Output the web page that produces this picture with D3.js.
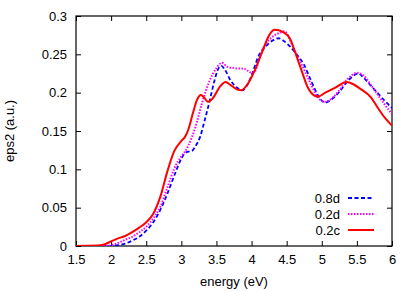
<!DOCTYPE html>
<html>
<head>
<meta charset="utf-8">
<script src="https://cdn.jsdelivr.net/npm/d3@7"></script>
<style>
  body { margin: 0; background: #fff; }
  text { font-family: "Liberation Sans", Arial, sans-serif; fill: #000; }
</style>
</head>
<body>
<svg id="chart" width="415" height="291"></svg>
<script>
'use strict';

// energy (eV) and eps2 values
var blueE = [1.5, 2.0, 2.1, 2.2, 2.3, 2.4, 2.5, 2.6, 2.7, 2.8, 2.9, 3.0, 3.05, 3.1, 3.15, 3.2, 3.27, 3.33, 3.4, 3.47, 3.52, 3.57, 3.62, 3.7, 3.8, 3.87, 3.95, 4.03, 4.1, 4.2, 4.3, 4.38, 4.45, 4.55, 4.65, 4.75, 4.85, 4.95, 5.05, 5.15, 5.25, 5.35, 5.45, 5.52, 5.6, 5.7, 5.8, 5.9, 6.0];
var blueV = [0, 0, 0.001, 0.003, 0.007, 0.012, 0.020, 0.031, 0.047, 0.068, 0.092, 0.114, 0.121, 0.123, 0.124, 0.130, 0.143, 0.163, 0.188, 0.215, 0.230, 0.235, 0.230, 0.216, 0.206, 0.203, 0.212, 0.230, 0.248, 0.260, 0.268, 0.271, 0.268, 0.260, 0.249, 0.236, 0.215, 0.196, 0.187, 0.192, 0.201, 0.213, 0.222, 0.225, 0.219, 0.209, 0.199, 0.189, 0.180];

var magE = [1.5, 1.9, 2.0, 2.1, 2.2, 2.3, 2.4, 2.5, 2.6, 2.7, 2.8, 2.9, 3.0, 3.05, 3.1, 3.2, 3.3, 3.4, 3.5, 3.58, 3.65, 3.75, 3.9, 4.0, 4.05, 4.12, 4.2, 4.3, 4.4, 4.47, 4.55, 4.65, 4.75, 4.85, 4.95, 5.05, 5.15, 5.25, 5.35, 5.45, 5.5, 5.6, 5.7, 5.8, 5.9, 6.0];
var magV = [0, 0, 0.001, 0.004, 0.008, 0.012, 0.018, 0.025, 0.036, 0.051, 0.076, 0.101, 0.117, 0.123, 0.131, 0.155, 0.188, 0.215, 0.232, 0.239, 0.234, 0.232, 0.231, 0.226, 0.228, 0.248, 0.263, 0.273, 0.278, 0.280, 0.268, 0.248, 0.230, 0.210, 0.193, 0.188, 0.193, 0.203, 0.216, 0.224, 0.226, 0.222, 0.210, 0.197, 0.184, 0.172];

var redE = [1.5, 1.8, 1.9, 2.0, 2.1, 2.2, 2.3, 2.4, 2.5, 2.6, 2.7, 2.8, 2.9, 3.0, 3.05, 3.1, 3.17, 3.22, 3.28, 3.33, 3.38, 3.45, 3.55, 3.63, 3.7, 3.8, 3.85, 3.95, 4.05, 4.15, 4.25, 4.33, 4.45, 4.55, 4.6, 4.7, 4.8, 4.9, 4.95, 5.05, 5.2, 5.35, 5.45, 5.55, 5.7, 5.8, 5.9, 6.0];
var redV = [0, 0.0005, 0.002, 0.006, 0.010, 0.013, 0.018, 0.024, 0.031, 0.042, 0.064, 0.097, 0.124, 0.137, 0.142, 0.152, 0.175, 0.190, 0.197, 0.193, 0.188, 0.193, 0.208, 0.214, 0.210, 0.204, 0.203, 0.212, 0.230, 0.253, 0.275, 0.282, 0.279, 0.270, 0.258, 0.232, 0.207, 0.196, 0.195, 0.200, 0.207, 0.214, 0.211, 0.205, 0.194, 0.180, 0.167, 0.157];

var seriesNames = ['0.8d', '0.2d', '0.2c'];
var xTicks = [1.5, 2, 2.5, 3, 3.5, 4, 4.5, 5, 5.5, 6];
var yTicks = [0, 0.05, 0.1, 0.15, 0.2, 0.25, 0.3];

// chart size
var margin = { top: 16, right: 23, bottom: 45, left: 76 };
var width  = 415 - margin.left - margin.right;
var height = 291 - margin.top  - margin.bottom;

var svg = d3.select('#chart')
  .append('g')
  .attr('transform', 'translate(' + margin.left + ',' + margin.top + ')');

var x = d3.scaleLinear().domain([1.5, 6]).range([0, width]);
var y = d3.scaleLinear().domain([0, 0.3]).range([height, 0]);

function fmt(d){ return String(+d.toFixed(2)); }

// axes, ticks pointing inward
var gx = svg.append('g').attr('transform', 'translate(0,' + height + ')')
  .call(d3.axisBottom(x).tickValues(xTicks).tickFormat(fmt).tickSizeInner(-5).tickSizeOuter(0).tickPadding(9));
var gxTop = svg.append('g')
  .call(d3.axisTop(x).tickValues(xTicks).tickFormat('').tickSizeInner(-5).tickSizeOuter(0));
var gy = svg.append('g')
  .call(d3.axisLeft(y).tickValues(yTicks).tickFormat(fmt).tickSizeInner(-5).tickSizeOuter(0).tickPadding(9));
var gyR = svg.append('g').attr('transform', 'translate(' + width + ',0)')
  .call(d3.axisRight(y).tickValues(yTicks).tickFormat('').tickSizeInner(-5).tickSizeOuter(0));

[gx, gxTop, gy, gyR].forEach(function(g){
  g.select('.domain').remove();
  g.selectAll('line').attr('stroke', '#000').attr('stroke-width', 1);
  g.selectAll('text').style('font-size', '13px').attr('fill', '#000');
});

svg.append('rect')
  .attr('width', width).attr('height', height)
  .attr('fill', 'none').attr('stroke', '#000').attr('stroke-width', 1.2);

// axis titles
svg.append('text')
  .attr('x', width / 2).attr('y', height + 40)
  .attr('text-anchor', 'middle').style('font-size', '13px')
  .text('energy (eV)');
svg.append('text')
  .attr('transform', 'translate(' + (-62) + ',' + (height / 2) + ') rotate(-90)')
  .attr('text-anchor', 'middle').style('font-size', '13px')
  .text('eps2 (a.u.)');

// lines
var line = d3.line()
  .x(function(d){ return x(d[0]); })
  .y(function(d){ return y(d[1]); })
  .curve(d3.curveMonotoneX);

function pairs(es, vs){ return es.map(function(e, i){ return [e, vs[i]]; }); }

var styles = [
  { data: pairs(blueE, blueV), color: '#0000ff', dash: '4,2.5', w: 1.8 },
  { data: pairs(magE, magV),   color: '#ff00ff', dash: '1.5,1.5', w: 2 },
  { data: pairs(redE, redV),   color: '#ff0000', dash: null, w: 2 }
];

svg.append('clipPath').attr('id', 'clip')
  .append('rect').attr('width', width).attr('height', height);

styles.forEach(function(s){
  svg.append('path').datum(s.data)
    .attr('clip-path', 'url(#clip)')
    .attr('fill', 'none')
    .attr('stroke', s.color)
    .attr('stroke-width', s.w)
    .attr('stroke-dasharray', s.dash)
    .attr('d', line);
});

// legend (bottom right, labels right-aligned before sample lines)
var legend = svg.append('g').attr('transform', 'translate(' + (width - 44) + ',' + 182 + ')');
seriesNames.forEach(function(name, i){
  var row = legend.append('g').attr('transform', 'translate(0,' + (i * 16) + ')');
  row.append('text').attr('x', -8).attr('y', 5)
    .attr('text-anchor', 'end').style('font-size', '13px').text(name);
  row.append('line').attr('x1', 0).attr('x2', 26).attr('y1', 0).attr('y2', 0)
    .attr('stroke', styles[i].color).attr('stroke-width', styles[i].w)
    .attr('stroke-dasharray', styles[i].dash);
});
</script>
</body>
</html>
